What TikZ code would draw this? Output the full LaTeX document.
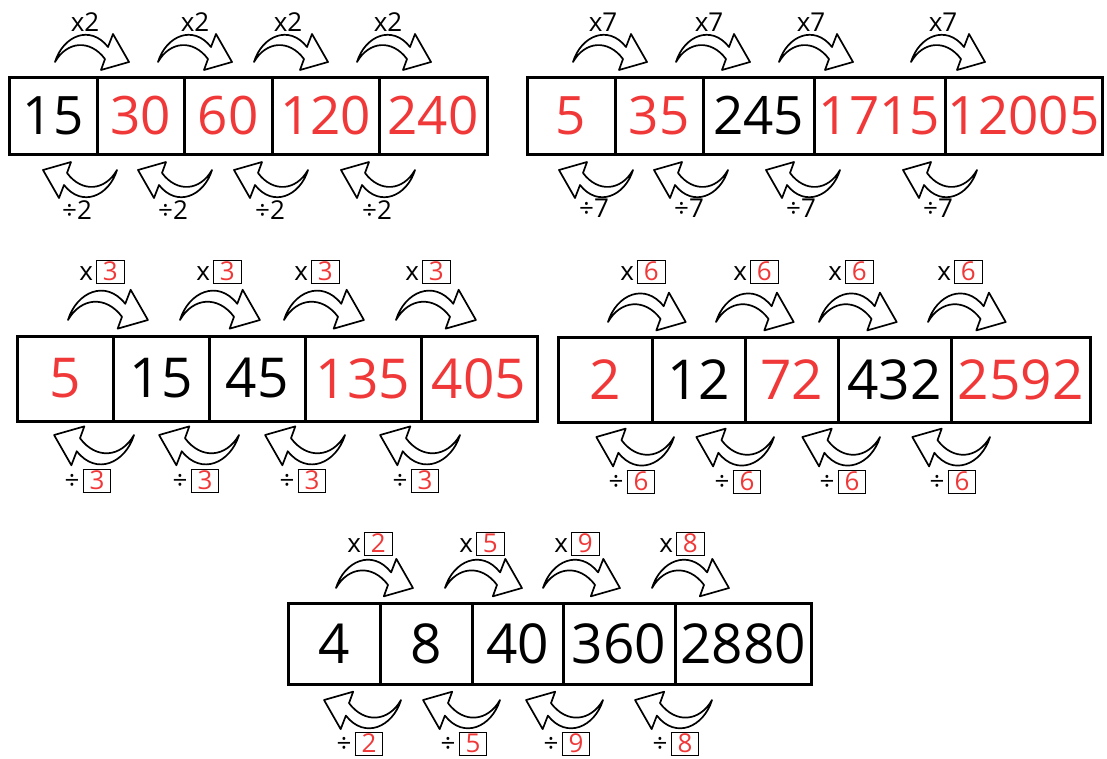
\documentclass[tikz,border=0pt]{standalone}
\usepackage{fontspec}
\setmainfont{Open Sans}
\definecolor{rouge}{RGB}{240,56,56}
% petite case encadrée avec un chiffre rouge
\newcommand{\caserouge}[1]{{\setlength{\fboxsep}{1pt}\setlength{\fboxrule}{0.9pt}\fbox{\makebox[25pt]{\rule[-1pt]{0pt}{19.5pt}\textcolor{rouge}{#1}}}}}
\tikzset{
  cellule/.style={draw,line width=3pt,inner sep=0pt},
  etiquette/.style={inner sep=0pt,font=\fontsize{26}{26}\selectfont},
  fleche/.pic={\draw[line width=1.7pt,fill=white,line join=round]
    (0,0) .. controls (8,-26) and (35,-38) .. (53,-15) -- (58,-28) -- (74,0)
    -- (46,8) -- (50,-3) .. controls (35,-23) and (12,-21) .. cycle;}
}
\begin{document}
\begin{tikzpicture}[x=1pt,y=-1pt]
\useasboundingbox (0,0) rectangle (1107,758);

% Ligne 1 : x2
\foreach \g/\d/\n/\c [count=\i] in {9/97/15/black,97/184/30/rouge,184/272/60/rouge,272/379/120/rouge,379/487/240/rouge}
  \node[cellule,text=\c,font=\fontsize{53}{53}\selectfont,minimum width={(\d-\g)*1pt},minimum height=77pt] (a\i) at ({(\g+\d)/2},115.5) {\n};
\foreach \t in {55,158,254,357} \pic at (\t,62) {fleche};
\foreach \t in {117,212,308,415} \pic[rotate=180] at (\t,170) {fleche};
\foreach \t [count=\i] in {85,195,288,388} \node[etiquette] (ha\i) at (\t,22) {x2};
\foreach \t [count=\i] in {77,173,270,377} \node[etiquette] (ba\i) at (\t,210) {÷2};

% Ligne 2 : x7
\foreach \g/\d/\n/\c [count=\i] in {527/615/5/rouge,615/703/35/rouge,703/814/245/black,814/945/1715/rouge,945/1102/12005/rouge}
  \node[cellule,text=\c,font=\fontsize{53}{53}\selectfont,minimum width={(\d-\g)*1pt},minimum height=77pt] (b\i) at ({(\g+\d)/2},115.5) {\n};
\foreach \t in {573,676,779,911} \pic at (\t,62) {fleche};
\foreach \t in {633,728,840,977} \pic[rotate=180] at (\t,170) {fleche};
\foreach \t [count=\i] in {603,709,811,943} \node[etiquette] (hb\i) at (\t,22) {x7};
\foreach \t [count=\i] in {594,689,801,938} \node[etiquette] (bb\i) at (\t,208) {÷7};

% Ligne 3 : x3
\foreach \g/\d/\n/\c [count=\i] in {17/113/5/rouge,113/209/15/black,209/305/45/black,305/421/135/rouge,421/537/405/rouge}
  \node[cellule,text=\c,font=\fontsize{55}{55}\selectfont,minimum width={(\d-\g)*1pt},minimum height=85pt] (c\i) at ({(\g+\d)/2},378.5) {\n};
\foreach \t in {68,180,284,396} \pic[scale=1.08] at (\t,320) {fleche};
\foreach \t in {134,239,345,460} \pic[scale=1.08,rotate=180] at (\t,435) {fleche};
\foreach \t [count=\i] in {102,219,317,428} \node[etiquette] (hc\i) at (\t,272) {x\hspace{3pt}\caserouge{3}};
\foreach \t [count=\i] in {88,196,303,416} \node[etiquette] (bc\i) at (\t,481) {÷\hspace{3pt}\caserouge{3}};

% Ligne 4 : x6
\foreach \g/\d/\n/\c [count=\i] in {558/652/2/rouge,652/745/12/black,745/838/72/rouge,838/951/432/black,951/1090/2592/rouge}
  \node[cellule,text=\c,font=\fontsize{55}{55}\selectfont,minimum width={(\d-\g)*1pt},minimum height=85pt] (d\i) at ({(\g+\d)/2},379.5) {\n};
\foreach \t in {608,716,819,928} \pic[scale=1.05] at (\t,322) {fleche};
\foreach \t in {674,774,880,990} \pic[scale=1.05,rotate=180] at (\t,437) {fleche};
\foreach \t [count=\i] in {643,756,851,960} \node[etiquette] (hd\i) at (\t,272) {x\hspace{3pt}\caserouge{6}};
\foreach \t [count=\i] in {632,738,843,953} \node[etiquette] (bd\i) at (\t,482) {÷\hspace{3pt}\caserouge{6}};

% Ligne 5 : facteurs variables
\foreach \g/\d/\n [count=\i] in {288/380/4,380/472/8,472/563/40,563/675/360,675/811/2880}
  \node[cellule,font=\fontsize{55}{55}\selectfont,minimum width={(\d-\g)*1pt},minimum height=81pt] (e\i) at ({(\g+\d)/2},643.5) {\n};
\foreach \t in {336,445,543,652} \pic[scale=1.04] at (\t,588) {fleche};
\foreach \t in {401,500,603,712} \pic[scale=1.04,rotate=180] at (\t,700) {fleche};
\foreach \t/\k [count=\i] in {370/2,482/5,577/9,682/8} \node[etiquette] (he\i) at (\t,544) {x\hspace{3pt}\caserouge{\k}};
\foreach \t/\k [count=\i] in {360/2,464/5,567/9,676/8} \node[etiquette] (be\i) at (\t,744) {÷\hspace{3pt}\caserouge{\k}};

\end{tikzpicture}
\end{document}
